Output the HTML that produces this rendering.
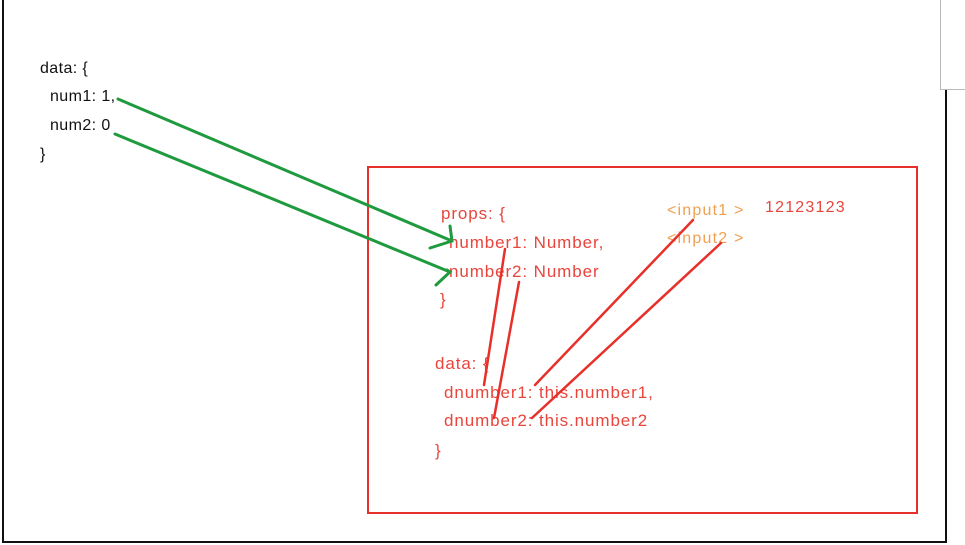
<!DOCTYPE html>
<html><head><meta charset="utf-8"><style>
body{margin:0;width:965px;height:545px;background:#fff;overflow:hidden;position:relative;font-family:"Liberation Sans",sans-serif}
.t{position:absolute;white-space:pre;line-height:1}
.k{font-size:16px;color:#111;letter-spacing:0.4px}
.r{font-size:17px;color:#e8453c;letter-spacing:0.9px}
.o{font-size:16px;color:#f0a050;letter-spacing:1.2px}
</style></head><body>
<div style="position:absolute;left:2px;top:-5px;width:943px;height:546px;border:2px solid #111;border-top:none;border-right:none"></div>
<div style="position:absolute;left:945px;top:88px;width:2px;height:455px;background:#111"></div>
<div style="position:absolute;left:940px;top:-1px;width:30px;height:89px;border:1px solid #bbb;background:#fff"></div>
<div class="t k" style="left:40px;top:61px">data: {</div>
<div class="t k" style="left:50px;top:89px">num1: 1,</div>
<div class="t k" style="left:50px;top:118px">num2: 0</div>
<div class="t k" style="left:40px;top:147px">}</div>
<div style="position:absolute;left:367px;top:166px;width:547px;height:344px;border:2px solid #e8302a"></div>
<div class="t r" style="left:441px;top:205px">props: {</div>
<div class="t r" style="left:449px;top:234px">number1: Number,</div>
<div class="t r" style="left:449px;top:263px">number2: Number</div>
<div class="t r" style="left:440px;top:291px">}</div>
<div class="t r" style="left:435px;top:355px">data: {</div>
<div class="t r" style="left:444px;top:384px">dnumber1: this.number1,</div>
<div class="t r" style="left:444px;top:412px">dnumber2: this.number2</div>
<div class="t r" style="left:435px;top:442px">}</div>
<div class="t o" style="left:667px;top:203px">&lt;input1 &gt;</div>
<div class="t o" style="left:667px;top:231px">&lt;input2 &gt;</div>
<div class="t o" style="left:765px;top:200px;color:#e8453c">12123123</div>
<svg width="965" height="545" style="position:absolute;left:0;top:0">
<g stroke="#1f9a3e" stroke-width="3" fill="none" stroke-linecap="round">
<path d="M118 99 L452 241 M450 226 L452 241 L430 248"/>
<path d="M115 134 L450 272 M436 285 L450 272 L447 270"/>
</g>
<g stroke="#e8302a" stroke-width="2.5" fill="none" stroke-linecap="round">
<path d="M505 249 L484 385"/>
<path d="M519 282 L494 418"/>
<path d="M693 220 L535 385"/>
<path d="M721 243 L532 418"/>
</g>
</svg>
</body></html>
